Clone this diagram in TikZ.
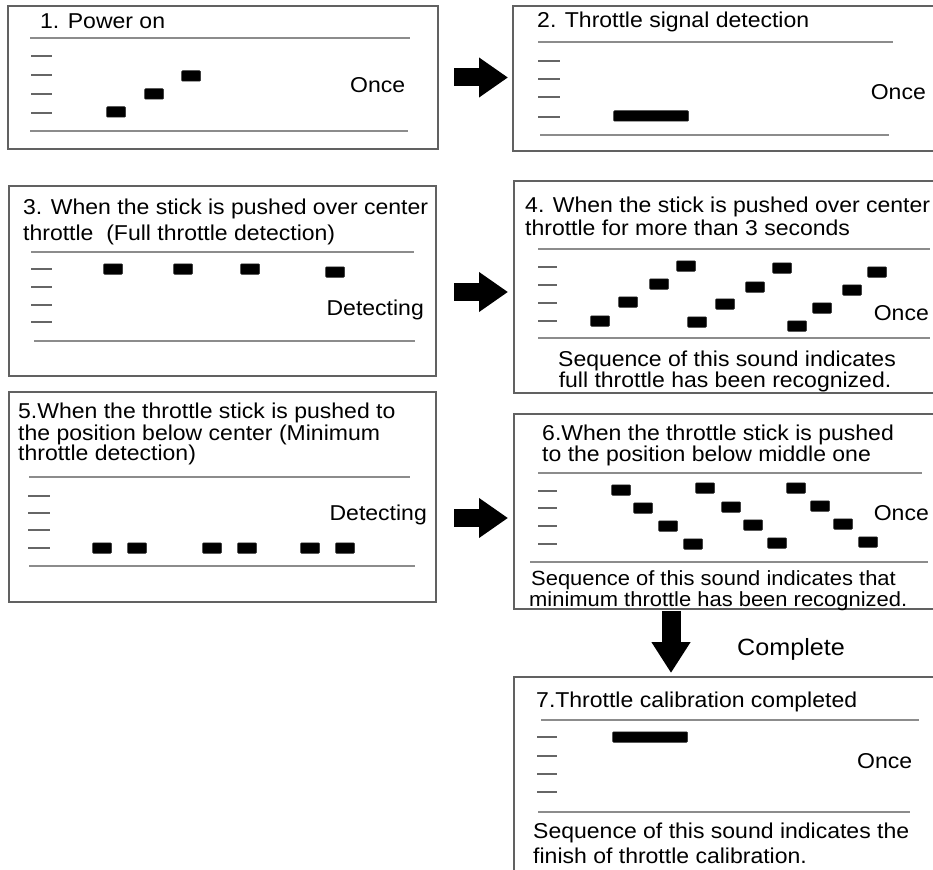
\documentclass[tikz,border=0pt]{standalone}
\usepackage{fontspec}
\setmainfont{Liberation Sans}[FakeStretch=1.07]
\usetikzlibrary{arrows.meta}
\begin{document}
\begin{tikzpicture}[x=1pt,y=-1pt,
  panel/.style={draw=black!62, line width=2pt, inner sep=0pt, anchor=north west},
  rulel/.style={draw=black!45, line width=2.4pt},
  tickm/.style={draw=black!60, line width=2.2pt},
  beep/.style={fill=black, draw=black!80, line width=0.5pt, rounded corners=1pt, minimum width=19pt, minimum height=10.5pt, inner sep=0pt},
  longbeep/.style={beep, minimum width=75pt},
  txt/.style={font=\fontsize{21.5}{25}\selectfont, inner sep=0pt, anchor=base west},
  txtc/.style={txt, anchor=base},
  txte/.style={txt, anchor=base east},
  capt/.style={txt, font=\fontsize{20.5}{24}\selectfont},
  bigarrow/.style={-{Triangle[width=38pt,length=29pt]}, line width=18pt, draw=black},
]
\useasboundingbox (0,0) rectangle (933,869);
\clip (0,0) rectangle (933,869);
\fill[white] (0,0) rectangle (933,869);

% ---------- panels ----------
\node[panel, minimum width=430pt, minimum height=143pt] (b1) at (7,5) {};
\node[panel, minimum width=433pt, minimum height=145pt] (b2) at (512,5) {};
\node[panel, minimum width=427pt, minimum height=190pt] (b3) at (8,185) {};
\node[panel, minimum width=432pt, minimum height=212pt] (b4) at (513,180) {};
\node[panel, minimum width=427pt, minimum height=210pt] (b5) at (8,391) {};
\node[panel, minimum width=432pt, minimum height=195pt] (b6) at (513,413) {};
\node[panel, minimum width=432pt, minimum height=230pt] (b7) at (513,676) {};

% ---------- arrows ----------
\draw[bigarrow, shorten <=15pt, shorten >=4pt] (b1.east) -- (b1.east -| b2.west);
\coordinate (a2s) at ([yshift=-11pt]b3.east);
\draw[bigarrow, shorten <=17pt, shorten >=5pt] (a2s) -- (a2s -| b4.west);
\coordinate (a3s) at ([yshift=-21pt]b5.east);
\draw[bigarrow, shorten <=17pt, shorten >=5pt] (a3s) -- (a3s -| b6.west);
\coordinate (a4s) at ([xshift=158pt]b6.south west);
\draw[-{Triangle[width=37pt,length=31pt]}, line width=19pt, draw=black, shorten <=1pt, shorten >=3pt] (a4s) -- (a4s |- b7.north);
\node[txt, font=\fontsize{23.5}{28}\selectfont] (cmp) at (737,655) {Complete};

% ---------- panel 1 ----------
\node[txt] (t1) at (40,29) {1. Power on};
\draw[rulel] (30,38) -- (410,38);
\draw[rulel] (30,131) -- (408,131);
\foreach \y in {56,75,94,113} \draw[tickm] (31,\y) -- (52,\y);
\node[beep] (p1a) at (116,112) {};
\node[beep] (p1b) at (154,94) {};
\node[beep] (p1c) at (191,76) {};
\node[txt] (o1) at (350,93) {Once};

% ---------- panel 2 ----------
\node[txt] (t2) at (537,28) {2. Throttle signal detection};
\draw[rulel] (538,42) -- (893,42);
\draw[rulel] (540,135) -- (889,135);
\foreach \y in {61,79,97,117} \draw[tickm] (538,\y) -- (560,\y);
\node[longbeep] (p2a) at (651,116) {};
\node[txte] (o2) at (926,100) {Once};

% ---------- panel 3 ----------
\node[txt] (t3a) at (23,214) {3. When the stick is pushed over center};
\node[txt] (t3b) at (23,240) {throttle\ \ (Full throttle detection)};
\draw[rulel] (31,252) -- (414,252);
\draw[rulel] (34,341) -- (415,341);
\foreach \y in {269,287,305,322} \draw[tickm] (31,\y) -- (52,\y);
\foreach \x/\y [count=\i] in {113/269,183/269,250/269,335/272}
  \node[beep] (p3\i) at (\x,\y) {};
\node[txte] (d3) at (424,315) {Detecting};

% ---------- panel 4 ----------
\node[txt] (t4a) at (525,212) {4. When the stick is pushed over center};
\node[txt] (t4b) at (525,235) {throttle for more than 3 seconds};
\draw[rulel] (538,249) -- (930,249);
\draw[rulel] (538,338) -- (930,338);
\foreach \y in {267,285,303,321} \draw[tickm] (538,\y) -- (557,\y);
\foreach \x/\y [count=\i] in {600/321,628/302,659/284,686/266,697/322,725/304,755/287,782/268,797/326,822/308,852/290,877/272}
  \node[beep] (p4\i) at (\x,\y) {};
\node[txte] (o4) at (929,320) {Once};
\node[txtc] (c4a) at (727,366) {Sequence of this sound indicates};
\node[txtc] (c4b) at (725,387) {full throttle has been recognized.};

% ---------- panel 6 ----------
\node[txt] (t6a) at (542,440) {6.When the throttle stick is pushed};
\node[txt] (t6b) at (542,461) {to the position below middle one};
\draw[rulel] (538,473) -- (922,473);
\draw[rulel] (530,562) -- (928,562);
\foreach \y in {491,508,526,544} \draw[tickm] (538,\y) -- (557,\y);
\foreach \x/\y [count=\i] in {621/490,643/508,668/526,693/544,705/488,731/507,753/525,777/543,796/488,820/506,843/524,868/542}
  \node[beep] (p6\i) at (\x,\y) {};
\node[txte] (o6) at (929,520) {Once};
\node[capt] (c6a) at (531,585) {Sequence of this sound indicates that};
\node[capt] (c6b) at (529,606) {minimum throttle has been recognized.};

% ---------- panel 5 ----------
\node[txt] (t5a) at (18,418) {5.When the throttle stick is pushed to};
\node[txt] (t5b) at (18,440) {the position below center (Minimum};
\node[txt] (t5c) at (18,460) {throttle detection)};
\draw[rulel] (29,477) -- (410,477);
\draw[rulel] (29,566) -- (415,566);
\foreach \y in {496,513,530,548} \draw[tickm] (28,\y) -- (50,\y);
\foreach \x [count=\i] in {102,137,212,247,310,345}
  \node[beep] (p5\i) at (\x,548) {};
\node[txte] (d5) at (427,520) {Detecting};

% ---------- panel 7 ----------
\node[txt] (t7) at (536,707) {7.Throttle calibration completed};
\draw[rulel] (541,720) -- (919,720);
\draw[rulel] (538,812) -- (910,812);
\foreach \y in {737,756,774,792} \draw[tickm] (537,\y) -- (557,\y);
\node[longbeep] (p7a) at (650,737) {};
\node[txt] (o7) at (857,768) {Once};
\node[txt] (c7a) at (533,838) {Sequence of this sound indicates the};
\node[txt] (c7b) at (533,863) {finish of throttle calibration.};
\end{tikzpicture}
\end{document}
